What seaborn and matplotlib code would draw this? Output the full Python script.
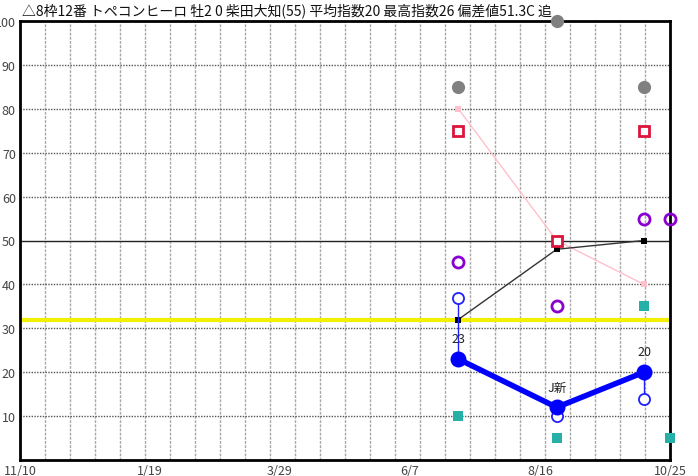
import numpy as np
import pandas as pd
import seaborn as sns
import matplotlib
matplotlib.use("Agg")
import matplotlib.pyplot as plt

# x positions are days counted from 11/10
tick_days = [0, 70, 140, 210, 280, 350]
tick_labels = ["11/10", "1/19", "3/29", "6/7", "8/16", "10/25"]

race_days = [236, 289, 336]
main_index = [23, 12, 20]          # thick blue line
main_labels = ["23", "J新", "20"]
blue_open = [37, 10, 14]           # open blue circles
black_line = [32, 48, 50]          # thin black line
pink_line = [80, 50, 40]           # thin pink line
gray_dots = [85, 100, 85]
red_squares = [75, 50, 75]

purple_days = [236, 289, 336, 350]
purple_rings = [45, 35, 55, 55]
teal_days = [236, 289, 336, 350]
teal_squares = [10, 5, 35, 5]

avg_level = 32                     # yellow line
title = "△8枠12番 トペコンヒーロ 牡2 0 柴田大知(55) 平均指数20 最高指数26 偏差値51.3C 追"

sns.set_theme(style="white")
plt.rcParams["font.family"] = ["Noto Sans CJK JP", "DejaVu Sans"]

fig = plt.figure(figsize=(6.98, 4.77), dpi=100)
ax = fig.add_axes([20 / 698, 16 / 477, 650 / 698, 439 / 477])

# grid
for gx in np.linspace(0, 350, 27)[1:-1]:
    ax.axvline(gx, color="#a8a8a8", lw=1, ls=(0, (2, 1)), zorder=0)
for gy in range(10, 100, 10):
    if gy == 50:
        ax.axhline(gy, color="#222222", lw=1, zorder=0.5)
    else:
        ax.axhline(gy, color="#555555", lw=1, ls=(0, (1, 1)), zorder=0)

ax.axhline(avg_level, color="#f2f000", lw=3, zorder=1)

df = pd.DataFrame({"day": race_days, "main": main_index, "open": blue_open,
                   "black": black_line, "pink": pink_line, "gray": gray_dots,
                   "red": red_squares})
df2 = pd.DataFrame({"day": purple_days, "purple": purple_rings})
df3 = pd.DataFrame({"day": teal_days, "teal": teal_squares})

kw = dict(clip_on=False)
sns.lineplot(data=df, x="day", y="pink", color="#ffc0cb", lw=1, marker="s",
             markersize=4, markeredgewidth=0, sort=False, estimator=None,
             ax=ax, zorder=2, **kw)
sns.lineplot(data=df, x="day", y="black", color="#333333", lw=1, marker="s",
             markersize=4.5, markerfacecolor="black", markeredgewidth=0,
             sort=False, estimator=None, ax=ax, zorder=3, **kw)
ax.vlines(df["day"], df["open"], df["main"], color="#2020ff", lw=1, zorder=3)
sns.lineplot(data=df, x="day", y="open", lw=0, marker="o", markersize=8,
             markerfacecolor="white", markeredgecolor="#2020ff",
             markeredgewidth=1.3, ax=ax, zorder=4, **kw)
sns.lineplot(data=df, x="day", y="gray", lw=0, marker="o", markersize=9.5,
             markerfacecolor="#808080", markeredgewidth=0, ax=ax, zorder=4, **kw)
sns.lineplot(data=df, x="day", y="red", lw=0, marker="s", markersize=7,
             markerfacecolor="white", markeredgecolor="#dc143c",
             markeredgewidth=2, ax=ax, zorder=4, **kw)
sns.lineplot(data=df2, x="day", y="purple", lw=0, marker="o", markersize=8,
             markerfacecolor="none", markeredgecolor="#8a00d0",
             markeredgewidth=2, ax=ax, zorder=4, **kw)
sns.lineplot(data=df3, x="day", y="teal", lw=0, marker="s", markersize=6.5,
             markerfacecolor="#26b0a8", markeredgewidth=0, ax=ax, zorder=4, **kw)
sns.lineplot(data=df, x="day", y="main", color="#0000ff", lw=4, marker="o",
             markersize=11.5, markeredgewidth=0, sort=False, estimator=None,
             ax=ax, zorder=5, **kw)

for d, v, lab in zip(race_days, main_index, main_labels):
    ax.annotate(lab, (d, v), xytext=(0, 10), textcoords="offset points",
                ha="center", va="bottom", fontsize=9, color="#222222")

ax.set_xlim(0, 350)
ax.set_ylim(0, 100)
ax.set_xticks(tick_days)
ax.set_xticklabels(tick_labels)
ax.set_yticks([10, 20, 30, 40, 50, 60, 70, 80, 90, 100])
ax.set_yticklabels(["10", "20", "30", "40", "50", "60", "70", "80", "90", "100"])
ax.tick_params(length=0, labelsize=9, colors="#444444", pad=3)
ax.set_xlabel("")
ax.set_ylabel("")
ax.grid(False)
for s in ax.spines.values():
    s.set_color("black")
    s.set_linewidth(2)

fig.text(22 / 698, 1 - 11 / 477, title, fontsize=10, va="center", ha="left",
         color="#111111")

fig.savefig("out.png", dpi=100)
